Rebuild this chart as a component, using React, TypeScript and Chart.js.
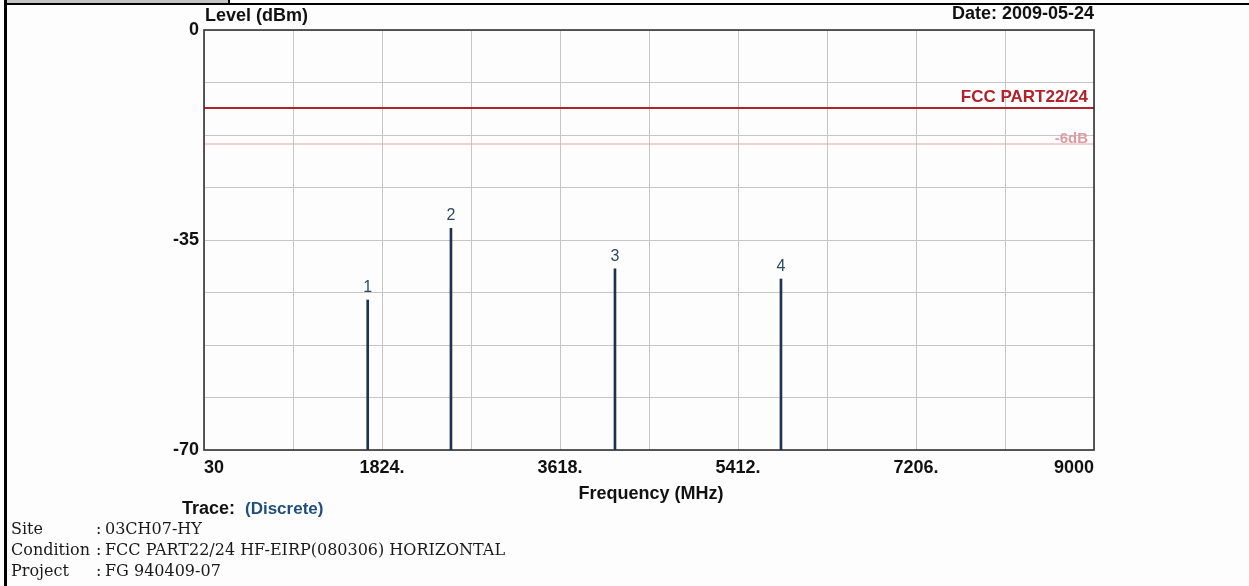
import React, { useEffect, useRef } from 'react';
import { Chart, registerables } from 'chart.js';

Chart.register(...registerables);

// ---- data ----
const markerFreqs = [1680, 2519, 4172, 5845];
const markerLevels = [-45.0, -33.05, -39.8, -41.5];
const markerLabels = ['1', '2', '3', '4'];
const limitLevel = -13;
const marginDb = 6;
const xMin = 30;
const xMax = 9000;
const xStep = 897;
const xTickLabels = ['30', '', '1824.', '', '3618.', '', '5412.', '', '7206.', '', '9000'];
const yMin = -70;
const yMax = 0;
const yStep = 8.75;
const yTickLabels = ['-70', '', '', '', '-35', '', '', '', '0'];
const titleLeft = 'Level (dBm)';
const titleRight = 'Date: 2009-05-24';
const xTitle = 'Frequency (MHz)';
const limitName = 'FCC PART22/24';
const marginName = '-6dB';
const traceLabel = 'Trace:';
const traceValue = '(Discrete)';
const infoKeys = ['Site', 'Condition', 'Project'];
const infoValues = ['03CH07-HY', 'FCC PART22/24 HF-EIRP(080306) HORIZONTAL', 'FG 940409-07'];

const SANS = '"Liberation Sans", Arial, sans-serif';
const SERIF = '"DejaVu Serif", "Liberation Serif", serif';

const decorPlugin = {
  id: 'decor',
  beforeDraw(chart: any) {
    const ctx = chart.ctx;
    ctx.save();
    ctx.fillStyle = '#fdfdfd';
    ctx.fillRect(0, 0, chart.width, chart.height);
    // page frame
    ctx.fillStyle = '#c4c4c4';
    ctx.fillRect(7, 0, 221, 3);
    ctx.fillStyle = '#000';
    ctx.fillRect(228, 0, 2, 4);
    ctx.fillRect(4, 3, chart.width - 4, 2);
    ctx.fillRect(4, 0, 3, chart.height);
    ctx.restore();
  },
  afterDraw(chart: any) {
    const ctx = chart.ctx;
    const area = chart.chartArea;
    const ys = chart.scales.y;
    ctx.save();
    // plot frame
    ctx.strokeStyle = '#333';
    ctx.lineWidth = 1.6;
    ctx.strokeRect(area.left, area.top, area.right - area.left, area.bottom - area.top);

    // titles
    ctx.fillStyle = '#111';
    ctx.font = `bold 18px ${SANS}`;
    ctx.textBaseline = 'alphabetic';
    ctx.textAlign = 'left';
    ctx.fillText(titleLeft, area.left + 1, 21);
    ctx.textAlign = 'right';
    ctx.fillText(titleRight, area.right, 19);
    ctx.textAlign = 'center';
    ctx.fillText(xTitle, (area.left + area.right) / 2 + 2, 499);

    // limit labels
    ctx.textAlign = 'right';
    ctx.font = `bold 17px ${SANS}`;
    ctx.fillStyle = '#b0222c';
    ctx.fillText(limitName, area.right - 6, ys.getPixelForValue(limitLevel) - 6);
    ctx.font = `bold 15px ${SANS}`;
    ctx.fillStyle = '#dc9ca2';
    ctx.fillText(marginName, area.right - 6, ys.getPixelForValue(limitLevel - marginDb) - 1);

    // marker numbers
    const xs = chart.scales.x;
    ctx.font = `16px ${SANS}`;
    ctx.fillStyle = '#2e4a60';
    ctx.textAlign = 'center';
    markerFreqs.forEach((f, i) => {
      ctx.fillText(markerLabels[i], xs.getPixelForValue(f), ys.getPixelForValue(markerLevels[i]) - 8);
    });

    // trace
    ctx.textAlign = 'left';
    ctx.font = `bold 18px ${SANS}`;
    ctx.fillStyle = '#111';
    ctx.fillText(traceLabel, 182, 514);
    ctx.font = `bold 17px ${SANS}`;
    ctx.fillStyle = '#1f4f7a';
    ctx.fillText(traceValue, 245, 514);

    // info rows
    ctx.font = `16px ${SERIF}`;
    ctx.fillStyle = '#1a1a1a';
    infoKeys.forEach((k, i) => {
      const y = 534 + i * 21;
      ctx.fillText(k, 11, y);
      ctx.fillText(':', 96, y);
      ctx.fillText(infoValues[i], 105, y);
    });
    ctx.restore();
  },
};

export default function App() {
  const ref = useRef<HTMLCanvasElement | null>(null);
  useEffect(() => {
    if (!ref.current) return;
    const chart = new Chart(ref.current, {
      type: 'bar',
      data: {
        datasets: [
          {
            type: 'line',
            data: [
              { x: xMin, y: limitLevel },
              { x: xMax, y: limitLevel },
            ],
            borderColor: '#b0222c',
            borderWidth: 2,
            pointRadius: 0,
            order: 2,
          } as any,
          {
            type: 'line',
            data: [
              { x: xMin, y: limitLevel - marginDb },
              { x: xMax, y: limitLevel - marginDb },
            ],
            borderColor: '#e2a4aa',
            borderWidth: 1,
            pointRadius: 0,
            order: 3,
          } as any,
          {
            type: 'bar',
            data: markerFreqs.map((f, i) => ({ x: f, y: [yMin, markerLevels[i]] })),
            backgroundColor: '#1c3450',
            borderWidth: 0,
            barThickness: 2,
            grouped: false,
            order: 1,
          } as any,
        ],
      },
      options: {
        animation: false,
        responsive: false,
        devicePixelRatio: 1,
        layout: { padding: { left: 0, top: 30, right: 155, bottom: 0 } },
        plugins: { legend: { display: false }, tooltip: { enabled: false } },
        scales: {
          x: {
            type: 'linear',
            min: xMin,
            max: xMax,
            offset: false,
            grid: { color: '#c6c6c6', lineWidth: 1, drawTicks: false, offset: false },
            border: { display: false },
            ticks: {
              stepSize: xStep,
              autoSkip: false,
              maxRotation: 0,
              align: 'inner',
              padding: 7,
              color: '#111',
              font: { family: SANS, size: 18, weight: 'bold' },
              callback: (_v: any, i: number) => xTickLabels[i] ?? '',
            },
            afterFit: (s: any) => {
              s.height = 136;
            },
          } as any,
          y: {
            type: 'linear',
            min: yMin,
            max: yMax,
            grid: { color: '#c6c6c6', lineWidth: 1, drawTicks: false },
            border: { display: false },
            ticks: {
              stepSize: yStep,
              autoSkip: false,
              padding: 5,
              color: '#111',
              font: { family: SANS, size: 18, weight: 'bold' },
              callback: (_v: any, i: number) => yTickLabels[i] ?? '',
            },
            afterFit: (s: any) => {
              s.width = 204;
            },
          } as any,
        },
      },
      plugins: [decorPlugin],
    });
    return () => chart.destroy();
  }, []);
  return (
    <div style={{ position: 'absolute', left: 0, top: 0, width: 1249, height: 586 }}>
      <canvas ref={ref} width={1249} height={586} style={{ display: 'block' }} />
    </div>
  );
}
